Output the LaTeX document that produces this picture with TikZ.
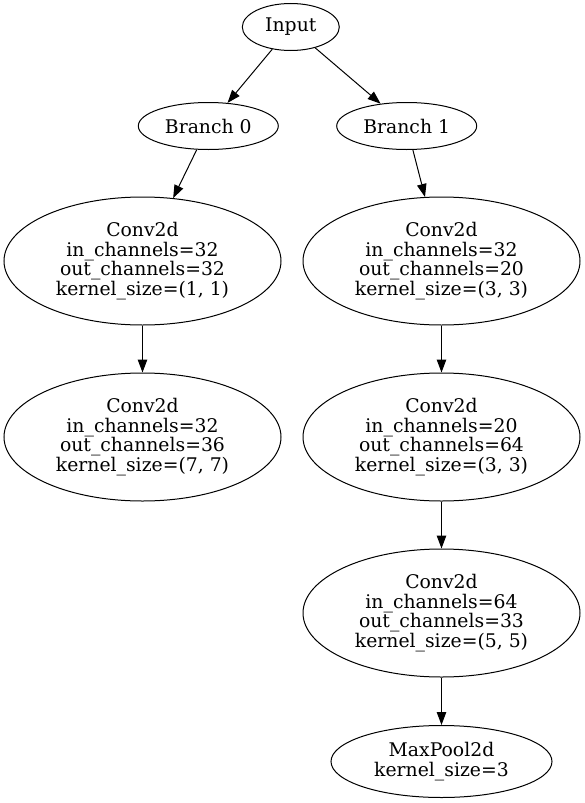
\documentclass[tikz,border=0pt]{standalone}
\usepackage{fontspec}
\setmainfont{DejaVu Serif}
\usetikzlibrary{arrows.meta,shapes.geometric}
\begin{document}
\begin{tikzpicture}[x=1pt,y=-1pt,
  gv/.style={draw,ellipse,line width=1pt,inner sep=0pt,align=center,
    font=\fontsize{18.8pt}{19.8pt}\selectfont},
  small/.style={gv,minimum width=140pt,minimum height=47pt},
  big/.style={gv,minimum width=277pt,minimum height=128pt},
  edge/.style={line width=1pt,-{Triangle[length=13pt,width=9.5pt]}}]
\useasboundingbox (0,0) rectangle (585,803);
\node[gv,minimum width=97pt,minimum height=47pt] (in) at (290.8,27) {Input};
\node[small] (b0) at (208.3,126) {Branch 0};
\node[small] (b1) at (406.7,126) {Branch 1};
\node[big] (c1) at (142.5,261) {Conv2d\\in\_channels=32\\out\_channels=32\\kernel\_size=(1, 1)};
\node[big] (c2) at (142.5,437) {Conv2d\\in\_channels=32\\out\_channels=36\\kernel\_size=(7, 7)};
\node[big] (c3) at (441.5,261) {Conv2d\\in\_channels=32\\out\_channels=20\\kernel\_size=(3, 3)};
\node[big] (c4) at (441.5,437) {Conv2d\\in\_channels=20\\out\_channels=64\\kernel\_size=(3, 3)};
\node[big] (c5) at (441.5,613) {Conv2d\\in\_channels=64\\out\_channels=33\\kernel\_size=(5, 5)};
\node[gv,minimum width=221pt,minimum height=72pt] (mp) at (441.5,761.5) {MaxPool2d\\kernel\_size=3};
\draw[edge] (in) -- (b0);
\draw[edge] (in) -- (b1);
\draw[edge] (b0) -- (c1);
\draw[edge] (c1) -- (c2);
\draw[edge] (b1) -- (c3);
\draw[edge] (c3) -- (c4);
\draw[edge] (c4) -- (c5);
\draw[edge] (c5) -- (mp);
\end{tikzpicture}
\end{document}
